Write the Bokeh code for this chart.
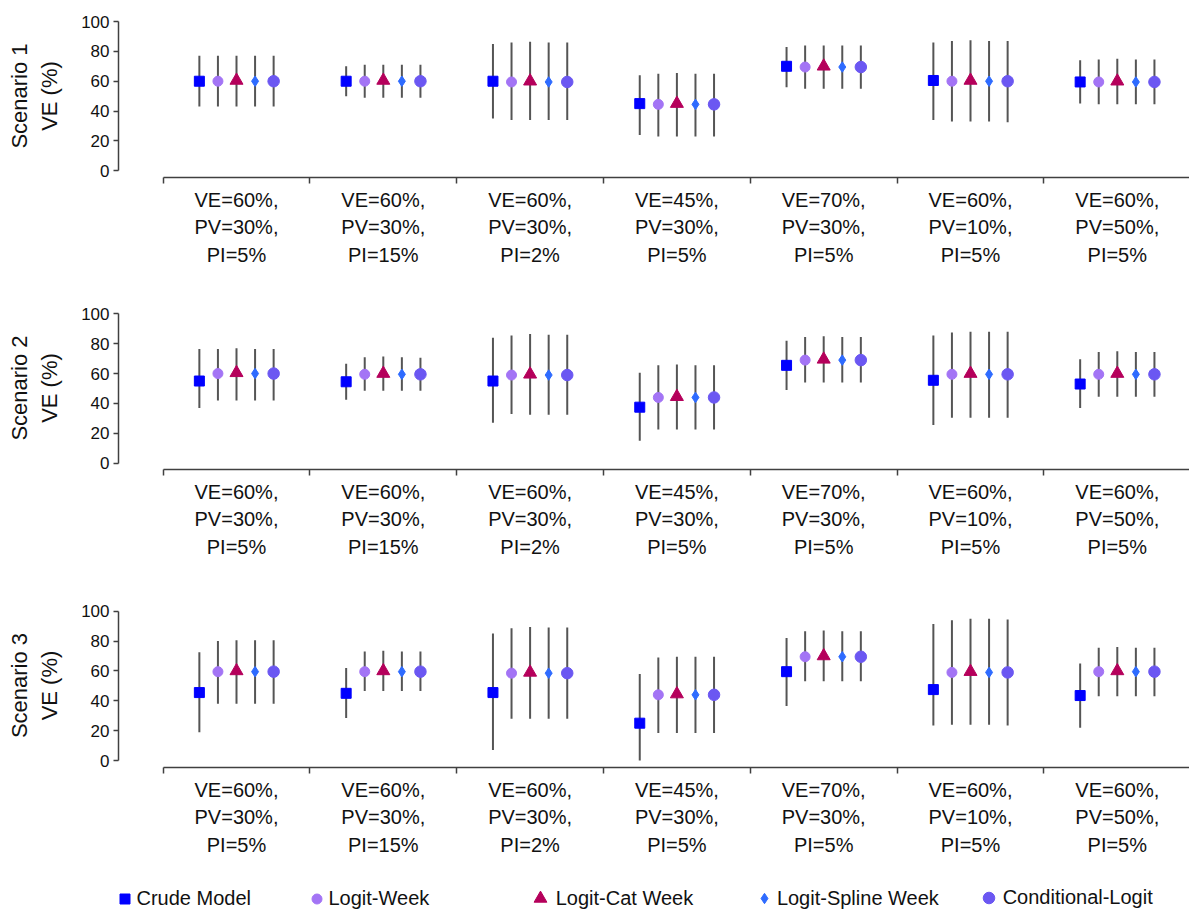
import math
from bokeh.plotting import figure
from bokeh.layouts import column
from bokeh.models import (ColumnDataSource, FixedTicker, LinearAxis, Range1d,
                          Legend, LegendItem)
from bokeh.embed import file_html
from bokeh.resources import INLINE

# ---------------- data ----------------
GROUP_LABELS = [
    "VE=60%,\nPV=30%,\nPI=5%",
    "VE=60%,\nPV=30%,\nPI=15%",
    "VE=60%,\nPV=30%,\nPI=2%",
    "VE=45%,\nPV=30%,\nPI=5%",
    "VE=70%,\nPV=30%,\nPI=5%",
    "VE=60%,\nPV=10%,\nPI=5%",
    "VE=60%,\nPV=50%,\nPI=5%",
]
MODELS = ["Crude Model", "Logit-Week", "Logit-Cat Week",
          "Logit-Spline Week", "Conditional-Logit"]
SCENARIO_TITLES = ["Scenario 1\nVE (%)", "Scenario 2\nVE (%)", "Scenario 3\nVE (%)"]
Y_TICKS = [0, 20, 40, 60, 80, 100]

# rows: Crude, Logit-Week, Logit-Cat Week, Logit-Spline Week, Conditional-Logit
S1_EST = [
    [60, 60, 60, 45, 70, 60.5, 59.5],
    [60, 60, 59.5, 44.5, 69.5, 60, 59.5],
    [60.5, 60.5, 60, 45, 70, 60.5, 60],
    [60, 60, 59.5, 44.5, 69.5, 60, 59.5],
    [60, 60, 59.5, 44.5, 69.5, 60, 59.5],
]
S1_LO = [
    [43, 50, 35, 24, 56, 34, 45],
    [43, 49, 34, 23, 55, 33, 44.5],
    [43, 49, 34, 23, 55, 33, 44.5],
    [43, 49, 34, 23, 55, 33, 44.5],
    [43, 49, 34, 23, 55, 32.5, 44.5],
]
S1_HI = [
    [77, 70, 85, 64, 83, 86, 74],
    [77, 71, 86, 65, 84, 87, 74.5],
    [77, 71, 86.5, 65.5, 84, 87.5, 75],
    [77, 71, 86, 65, 84, 87, 74.5],
    [77, 71, 86, 65, 84, 87, 74.5],
]
S2_EST = [
    [55, 54.5, 55, 37.5, 65.5, 55.5, 53],
    [60, 59.5, 59, 44, 69, 59.5, 59.5],
    [60.5, 60, 59.5, 44.5, 69.5, 60, 60],
    [60, 59.5, 59, 44, 69, 59.5, 59.5],
    [60, 59.5, 59, 44, 69, 59.5, 59.5],
]
S2_LO = [
    [37, 42.5, 27, 15, 49, 25.5, 37],
    [42, 48.5, 33, 22.5, 54, 30.5, 44.5],
    [42, 48.5, 32.5, 22.5, 54, 30.5, 44.5],
    [42, 48.5, 32.5, 22.5, 54, 30.5, 44.5],
    [42, 48.5, 32.5, 22.5, 54, 30.5, 44.5],
]
S2_HI = [
    [76.5, 66.5, 84, 60.5, 82, 85.5, 69.5],
    [76.5, 71, 85.5, 65.5, 84.5, 87.5, 74.5],
    [77, 71.5, 86.5, 66, 85, 88, 75],
    [76.5, 71, 86, 65.5, 84.5, 88, 74.5],
    [76.5, 70.5, 86, 65.5, 84.5, 88, 74.5],
]
S3_EST = [
    [45.5, 45, 45.5, 25, 59.5, 47.5, 43.5],
    [59.5, 59.5, 58.5, 44, 69.5, 59, 59.5],
    [60, 60, 59, 44.5, 70, 59.5, 60],
    [59.5, 59.5, 58.5, 44, 69.5, 59, 59.5],
    [59.5, 59.5, 58.5, 44, 69.5, 59, 59.5],
]
S3_LO = [
    [19, 28.5, 7, 0, 36.5, 23.5, 22],
    [38, 46.5, 28, 18.5, 53, 24, 43],
    [38, 46.5, 28, 18.5, 53, 24, 43],
    [38, 46.5, 28, 18.5, 53, 24, 43],
    [38, 46.5, 28, 18.5, 53, 23.5, 43],
]
S3_HI = [
    [72.5, 62, 85, 58, 82, 91.5, 65],
    [80, 73, 88.5, 69, 86.5, 94, 75.5],
    [80.5, 73.5, 89.5, 69.5, 87, 95, 76],
    [80.5, 73, 89, 69.5, 86.5, 95, 75.5],
    [80.5, 73, 89, 69.5, 86.5, 94.5, 75.5],
]
SCENARIOS = [(S1_EST, S1_LO, S1_HI), (S2_EST, S2_LO, S2_HI), (S3_EST, S3_LO, S3_HI)]

# ---------------- styles / layout ----------------
FONT = "Liberation Sans"
COLORS = ["#0000FF", "#A374F5", "#B5005B", "#2E6BFF", "#6B57F2"]
MARKERS = ["square", "circle", "triangle", "diamond", "circle"]
SIZES = [10, 10, 13, 10.5, 11.5]
OFFSETS = [-2, -1, 0, 1, 2]
OFFSET_STEP = 0.1265
WHISKER = "#555555"
AXIS_COLOR = "#404040"

FIG_W = 1189
X0_PX, GROUP_PX = 162.6, 146.8          # px of first group boundary, px per group
FRAME_L, FRAME_R = 118.0, 1189.0
X_START = (FRAME_L - X0_PX) / GROUP_PX
X_END = (FRAME_R - X0_PX) / GROUP_PX

# fig_top, fig_h, frame_top, frame_bottom, y0_px, y100_px  (page coordinates)
PANELS = [
    (0, 292, 14, 177, 170.3, 21.0),
    (292, 297, 306, 469, 462.7, 313.3),
    (589, 281, 603, 767, 760.0, 610.7),
]

# legend strip (page coordinates)
LEG_TOP, LEG_H = 870, 41
LEG_CENTER_Y = 898
LEG_GLYPH_X = [124, 316, 540, 764, 988]


def make_panel(title, est, lo, hi, spec):
    fig_top, fig_h, frame_top, frame_bottom, y0_px, y100_px = spec
    s = (y0_px - y100_px) / 100.0
    y_end = (y0_px - frame_top) / s
    y_start = -(frame_bottom - y0_px) / s
    p = figure(width=FIG_W, height=fig_h,
               x_range=Range1d(X_START, X_END), y_range=Range1d(y_start, y_end),
               toolbar_location=None, output_backend="svg",
               x_axis_location=None,
               min_border_left=int(FRAME_L), min_border_right=0,
               min_border_top=frame_top - fig_top,
               min_border_bottom=fig_top + fig_h - frame_bottom)
    p.outline_line_color = None
    p.grid.visible = False

    yax = p.yaxis[0]
    yax.ticker = FixedTicker(ticks=Y_TICKS)
    yax.bounds = (0, 100)
    yax.major_tick_in = 0
    yax.major_tick_out = 5
    yax.minor_tick_line_color = None
    yax.axis_line_color = AXIS_COLOR
    yax.axis_line_width = 1.5
    yax.major_tick_line_color = AXIS_COLOR
    yax.major_tick_line_width = 1.5
    yax.major_label_text_font = FONT
    yax.major_label_text_font_size = "17px"
    yax.major_label_text_color = "#111111"
    yax.major_label_standoff = 4
    yax.axis_label = title
    yax.axis_label_text_font = FONT
    yax.axis_label_text_font_size = "22px"
    yax.axis_label_text_font_style = "normal"
    yax.axis_label_text_color = "#111111"
    yax.axis_label_standoff = 16

    n = len(GROUP_LABELS)
    bax = LinearAxis(ticker=FixedTicker(ticks=list(range(n + 1))), bounds=(0, n))
    bax.major_tick_in = 0
    bax.major_tick_out = 6
    bax.minor_tick_line_color = None
    bax.axis_line_color = AXIS_COLOR
    bax.axis_line_width = 1.5
    bax.major_tick_line_color = AXIS_COLOR
    bax.major_tick_line_width = 1.5
    bax.major_label_text_font_size = "1px"
    bax.major_label_text_alpha = 0
    bax.major_label_standoff = 0
    p.add_layout(bax, "below")

    centers = [g + 0.5 for g in range(n)]
    lax = LinearAxis(ticker=FixedTicker(ticks=centers))
    lax.major_label_overrides = {c: lab for c, lab in zip(centers, GROUP_LABELS)}
    lax.axis_line_color = None
    lax.major_tick_line_color = None
    lax.minor_tick_line_color = None
    lax.major_tick_in = 0
    lax.major_tick_out = 0
    lax.major_label_standoff = 5
    lax.major_label_text_font = FONT
    lax.major_label_text_font_size = "20px"
    lax.major_label_text_line_height = 1.25
    lax.major_label_text_color = "#111111"
    p.add_layout(lax, "below")

    sources = []
    for i in range(len(MODELS)):
        xs = [g + 0.5 + OFFSETS[i] * OFFSET_STEP for g in range(n)]
        src = ColumnDataSource(dict(x=xs, est=est[i], lo=lo[i], hi=hi[i]))
        sources.append(src)
        p.segment(x0="x", y0="lo", x1="x", y1="hi", source=src,
                  line_color=WHISKER, line_width=2)
    for i in range(len(MODELS)):
        p.scatter(x="x", y="est", source=sources[i], marker=MARKERS[i], size=SIZES[i],
                  fill_color=COLORS[i], line_color=COLORS[i], line_width=1)
    return p, sources


built = [make_panel(t, *d, spec) for t, d, spec in zip(SCENARIO_TITLES, SCENARIOS, PANELS)]
panels = [b[0] for b in built]
last_sources = built[-1][1]

# ---------------- legend strip ----------------
# marker renderers reuse the real data but lie outside this strip's y-range,
# so only their legend glyphs are visible.
leg = figure(width=FIG_W, height=LEG_H,
             x_range=Range1d(X_START, X_END), y_range=Range1d(-3, -2),
             toolbar_location=None, output_backend="svg",
             x_axis_location=None, y_axis_location=None,
             min_border_left=int(FRAME_L), min_border_right=0,
             min_border_top=0, min_border_bottom=0)
leg.outline_line_color = None
leg.grid.visible = False

center_from_bottom = (LEG_TOP + LEG_H) - LEG_CENTER_Y
for i, name in enumerate(MODELS):
    r = leg.scatter(x="x", y="est", source=last_sources[i], marker=MARKERS[i],
                    size=SIZES[i], fill_color=COLORS[i], line_color=COLORS[i],
                    line_width=1)
    box = SIZES[i] / 0.4
    lx = (LEG_GLYPH_X[i] - FRAME_L) - box / 2
    ly = center_from_bottom - box / 2
    lg = Legend(items=[LegendItem(label=name, renderers=[r])],
                location=(lx, ly),
                glyph_width=int(round(box)), glyph_height=int(round(box)),
                label_height=int(round(box)), label_standoff=0,
                padding=0, margin=0, spacing=0,
                border_line_alpha=0, background_fill_alpha=0,
                label_text_font=FONT, label_text_font_size="20px",
                label_text_color="#111111")
    leg.add_layout(lg)

layout = column(*panels, leg, spacing=0)
open("out.html", "w").write(file_html(layout, INLINE))
